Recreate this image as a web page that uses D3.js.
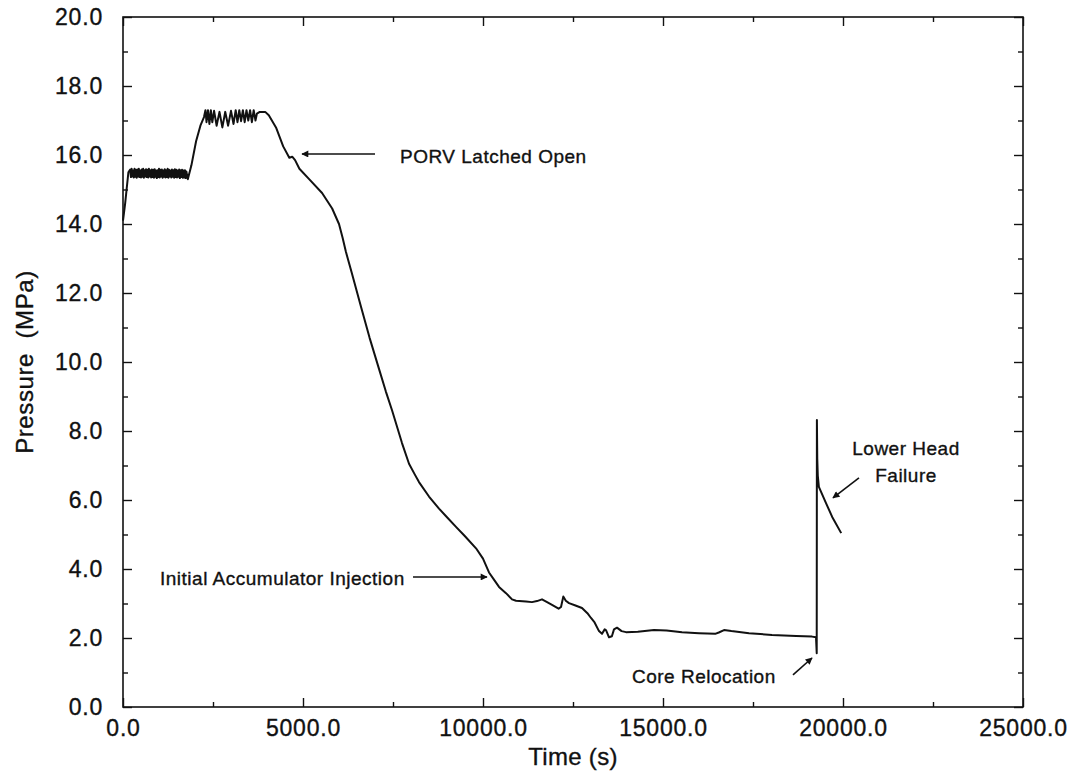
<!DOCTYPE html>
<html>
<head>
<meta charset="utf-8">
<script src="https://cdn.jsdelivr.net/npm/d3@7"></script>
<style>
  html, body { margin: 0; padding: 0; background: #fff; }
  svg { display: block; }
  text { font-family: "Liberation Sans", Arial, Helvetica, sans-serif; fill: #111; stroke: #111; stroke-width: 0.35px; }
</style>
</head>
<body>
<svg id="chart" width="1074" height="775"></svg>
<script>
// ---- data ----
const timeS = [
  0, 60, 100, 150,
  200, 220, 240, 260, 280, 300, 320, 340, 360, 380, 400, 420, 440, 460, 480, 500,
  520, 540, 560, 580, 600, 620, 640, 660, 680, 700, 720, 740, 760, 780, 800, 820,
  840, 860, 880, 900, 920, 940, 960, 980, 1000, 1020, 1040, 1060, 1080, 1100, 1120, 1140,
  1160, 1180, 1200, 1220, 1240, 1260, 1280, 1300, 1320, 1340, 1360, 1380, 1400, 1420,
  1440, 1460, 1480, 1500, 1520, 1540, 1560, 1580, 1600, 1620, 1640, 1660, 1680, 1700,
  1720, 1740, 1760,
  1800, 1900, 2030, 2150, 2250,
  2290, 2320, 2360, 2400, 2440, 2480, 2530, 2600, 2680, 2760, 2840, 2920, 3000, 3070,
  3130, 3180, 3230, 3280, 3330, 3380, 3430, 3480, 3530, 3580, 3630, 3680, 3720,
  3800, 3950, 4050, 4250, 4450, 4620, 4700, 4780, 4900, 5170, 5530, 5810, 6000, 6100,
  6190, 6350, 6611, 6850, 7111, 7300, 7473, 7750, 7945, 8100, 8222, 8500, 8778, 9000,
  9250, 9500, 9806, 10000, 10167, 10300, 10445, 10639, 10806, 10917, 11195, 11361,
  11500, 11639, 11780, 11917, 12100, 12167, 12230, 12300, 12389, 12550, 12750, 12900,
  13000, 13100, 13222, 13306, 13380, 13420, 13500, 13580, 13639, 13722, 13850, 13972,
  14300, 14750, 15100, 15528, 16000, 16450, 16550, 16695, 16900, 17389, 18028, 18700,
  19140, 19250, 19270, 19275, 19285, 19300, 19330, 19528, 19700, 19950
];
const pressureMPa = [
  14.1, 14.6, 15.0, 15.5,
  15.58, 15.36, 15.6, 15.38, 15.55, 15.35, 15.6, 15.37, 15.57, 15.34, 15.58, 15.38, 15.6, 15.36, 15.55, 15.35,
  15.58, 15.37, 15.6, 15.34, 15.56, 15.38, 15.59, 15.36, 15.57, 15.35, 15.6, 15.38, 15.56, 15.35, 15.58, 15.36,
  15.57, 15.34, 15.59, 15.37, 15.55, 15.33, 15.56, 15.36, 15.6, 15.35, 15.57, 15.38, 15.58, 15.34, 15.55, 15.37,
  15.59, 15.35, 15.56, 15.36, 15.6, 15.34, 15.57, 15.38, 15.55, 15.35, 15.58, 15.37, 15.56, 15.34,
  15.59, 15.36, 15.57, 15.35, 15.55, 15.37, 15.58, 15.33, 15.56, 15.36, 15.57, 15.34, 15.55, 15.35,
  15.56, 15.33, 15.52,
  15.3, 15.7, 16.4, 16.85, 17.1,
  17.3, 16.95, 17.3, 16.9, 17.3, 16.95, 17.28, 16.85, 17.25, 16.8, 17.25, 16.85, 17.28, 16.9,
  17.3, 16.95, 17.3, 16.98, 17.3, 16.95, 17.3, 17.0, 17.3, 16.95, 17.3, 17.0, 17.2,
  17.25, 17.25, 17.15, 16.8, 16.25, 15.92, 15.95, 15.85, 15.6, 15.3, 14.9, 14.45, 14.0, 13.6,
  13.2, 12.6, 11.6, 10.7, 9.8, 9.15, 8.6, 7.65, 7.05, 6.75, 6.52, 6.1, 5.75, 5.5,
  5.22, 4.95, 4.6, 4.3, 3.9, 3.7, 3.48, 3.3, 3.12, 3.08, 3.06, 3.04,
  3.07, 3.12, 3.04, 2.96, 2.85, 2.9, 3.2, 3.08, 3.01, 2.95, 2.87, 2.72,
  2.58, 2.45, 2.2, 2.12, 2.25, 2.22, 2.02, 2.05, 2.25, 2.3, 2.2, 2.17,
  2.18, 2.23, 2.22, 2.17, 2.14, 2.12, 2.16, 2.23, 2.2, 2.14, 2.09, 2.06,
  2.04, 2.02, 1.56, 8.32, 7.2, 6.7, 6.38, 5.91, 5.51, 5.04
];

const xMajorTicks = [0, 5000, 10000, 15000, 20000, 25000];
const xMinorTicks = [2500, 7500, 12500, 17500, 22500];
const yMajorTicks = [0, 2, 4, 6, 8, 10, 12, 14, 16, 18, 20];
const yMinorTicks = [1, 3, 5, 7, 9, 11, 13, 15, 17, 19];

const xTitle = "Time (s)";
const yTitle = "Pressure  (MPa)";

// annotations: label lines, text anchor point (t, P), arrow from (t,P) to (t,P)
const annoLabels = [["PORV Latched Open"], ["Initial Accumulator Injection"], ["Core Relocation"], ["Lower Head", "Failure"]];
const annoTextT = [7694, 1028, 14139, 21750];
const annoTextP = [15.77, 3.54, 0.70, 7.30];
const annoAnchor = ["start", "start", "start", "middle"];
const arrowFromT = [7000, 8056, 18611, 20444];
const arrowFromP = [16.03, 3.77, 0.93, 6.64];
const arrowToT = [4972, 10111, 19139, 19722];
const arrowToP = [16.03, 3.77, 1.42, 6.06];

// ---- drawing ----
const svg = d3.select("#chart");
const padL = 123, padR = 1023, padT = 17, padB = 707;
const x = d3.scaleLinear().domain([0, 25000]).range([padL, padR]);
const y = d3.scaleLinear().domain([0, 20]).range([padB, padT]);

const ink = "#111";

// frame
svg.append("rect").attr("x", padL).attr("y", padT)
  .attr("width", padR - padL).attr("height", padB - padT)
  .attr("fill", "none").attr("stroke", ink).attr("stroke-width", 1.6);

function styleAxis(g) {
  g.select(".domain").remove();
  g.selectAll(".tick line").attr("stroke", ink).attr("stroke-width", 1.4);
  g.selectAll(".tick text")
    .style("font-size", "23px").style("letter-spacing", "0.8px").attr("fill", ink);
}

// bottom
svg.append("g").attr("transform", `translate(0,${padB})`)
  .call(d3.axisBottom(x).tickValues(xMajorTicks).tickSize(-9).tickPadding(13)
        .tickFormat(d => d3.format(".1f")(d)))
  .call(styleAxis);
svg.append("g").attr("transform", `translate(0,${padB})`)
  .call(d3.axisBottom(x).tickValues(xMinorTicks).tickSize(-5).tickFormat(""))
  .call(styleAxis);
// top
svg.append("g").attr("transform", `translate(0,${padT})`)
  .call(d3.axisTop(x).tickValues(xMajorTicks).tickSize(-9).tickFormat(""))
  .call(styleAxis);
svg.append("g").attr("transform", `translate(0,${padT})`)
  .call(d3.axisTop(x).tickValues(xMinorTicks).tickSize(-5).tickFormat(""))
  .call(styleAxis);
// left
svg.append("g").attr("transform", `translate(${padL},0)`)
  .call(d3.axisLeft(y).tickValues(yMajorTicks).tickSize(-9).tickPadding(20)
        .tickFormat(d => d3.format(".1f")(d)))
  .call(styleAxis);
svg.append("g").attr("transform", `translate(${padL},0)`)
  .call(d3.axisLeft(y).tickValues(yMinorTicks).tickSize(-5).tickFormat(""))
  .call(styleAxis);
// right
svg.append("g").attr("transform", `translate(${padR},0)`)
  .call(d3.axisRight(y).tickValues(yMajorTicks).tickSize(-9).tickFormat(""))
  .call(styleAxis);
svg.append("g").attr("transform", `translate(${padR},0)`)
  .call(d3.axisRight(y).tickValues(yMinorTicks).tickSize(-5).tickFormat(""))
  .call(styleAxis);

// axis titles
svg.append("text").attr("x", (padL + padR) / 2).attr("y", 765)
  .attr("text-anchor", "middle").style("font-size", "24px").style("letter-spacing", "0.3px")
  .text(xTitle);
svg.append("text")
  .attr("transform", `translate(33,${(padT + padB) / 2}) rotate(-90)`)
  .attr("text-anchor", "middle").style("font-size", "24px").style("letter-spacing", "0.6px")
  .style("white-space", "pre")
  .text(yTitle);

// curve
const pts = timeS.map((t, i) => [t, pressureMPa[i]]);
svg.append("path").datum(pts)
  .attr("fill", "none").attr("stroke", ink).attr("stroke-width", 2)
  .attr("stroke-linejoin", "round")
  .attr("d", d3.line().x(d => x(d[0])).y(d => y(d[1])));

// arrow marker
svg.append("defs").append("marker")
  .attr("id", "ah").attr("viewBox", "0 0 10 10")
  .attr("refX", 9).attr("refY", 5)
  .attr("markerWidth", 10).attr("markerHeight", 7)
  .attr("markerUnits", "userSpaceOnUse")
  .attr("orient", "auto")
  .append("path").attr("d", "M0,0 L10,5 L0,10 z").attr("fill", ink);

annoLabels.forEach((lines, i) => {
  svg.append("line")
    .attr("x1", x(arrowFromT[i])).attr("y1", y(arrowFromP[i]))
    .attr("x2", x(arrowToT[i])).attr("y2", y(arrowToP[i]))
    .attr("stroke", ink).attr("stroke-width", 1.6)
    .attr("marker-end", "url(#ah)");
  const tx = svg.append("text")
    .attr("x", x(annoTextT[i])).attr("y", y(annoTextP[i]))
    .attr("text-anchor", annoAnchor[i])
    .style("font-size", "19px").style("letter-spacing", "0.5px");
  lines.forEach((ln, j) => {
    tx.append("tspan").attr("x", x(annoTextT[i])).attr("dy", j === 0 ? 0 : 27).text(ln);
  });
});
</script>
</body>
</html>
